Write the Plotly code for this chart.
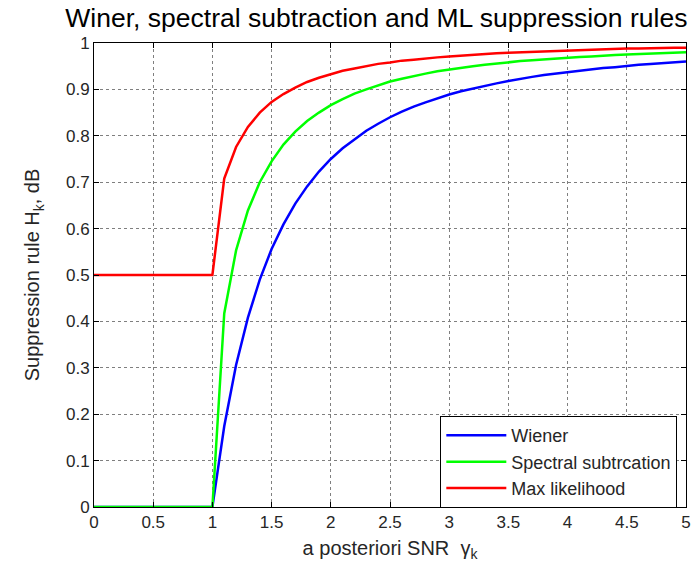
import plotly.graph_objects as go

snr = [0.0, 0.1, 0.2, 0.3, 0.4, 0.5, 0.6, 0.7, 0.8, 0.9,
       1.0, 1.1, 1.2, 1.3, 1.4, 1.5, 1.6, 1.7, 1.8, 1.9,
       2.0, 2.1, 2.2, 2.3, 2.4, 2.5, 2.6, 2.7, 2.8, 2.9,
       3.0, 3.1, 3.2, 3.3, 3.4, 3.5, 3.6, 3.7, 3.8, 3.9,
       4.0, 4.1, 4.2, 4.3, 4.4, 4.5, 4.6, 4.7, 4.8, 4.9, 5.0]

wiener = [0, 0, 0, 0, 0, 0, 0, 0, 0, 0,
          0, 0.174, 0.306, 0.408, 0.490, 0.556, 0.609, 0.654, 0.691, 0.723,
          0.750, 0.773, 0.793, 0.811, 0.826, 0.840, 0.852, 0.863, 0.872, 0.881,
          0.889, 0.896, 0.902, 0.908, 0.913, 0.918, 0.923, 0.927, 0.931, 0.934,
          0.938, 0.941, 0.943, 0.946, 0.948, 0.951, 0.953, 0.955, 0.957, 0.958, 0.960]

spectral = [0, 0, 0, 0, 0, 0, 0, 0, 0, 0,
            0, 0.417, 0.553, 0.639, 0.700, 0.745, 0.781, 0.809, 0.832, 0.850,
            0.866, 0.879, 0.891, 0.900, 0.909, 0.917, 0.923, 0.929, 0.934, 0.939,
            0.943, 0.947, 0.950, 0.953, 0.956, 0.958, 0.961, 0.963, 0.965, 0.966,
            0.968, 0.970, 0.971, 0.973, 0.974, 0.975, 0.976, 0.977, 0.978, 0.979, 0.980]

maxlik = [0.5, 0.5, 0.5, 0.5, 0.5, 0.5, 0.5, 0.5, 0.5, 0.5,
          0.5, 0.708, 0.776, 0.819, 0.850, 0.873, 0.890, 0.904, 0.916, 0.925,
          0.933, 0.940, 0.945, 0.950, 0.955, 0.958, 0.962, 0.964, 0.967, 0.969,
          0.971, 0.973, 0.975, 0.976, 0.978, 0.979, 0.980, 0.981, 0.982, 0.983,
          0.984, 0.985, 0.986, 0.986, 0.987, 0.988, 0.988, 0.989, 0.989, 0.990, 0.990]

x_ticks = [0, 0.5, 1, 1.5, 2, 2.5, 3, 3.5, 4, 4.5, 5]
x_tick_labels = ["0", "0.5", "1", "1.5", "2", "2.5", "3", "3.5", "4", "4.5", "5"]
y_ticks = [0, 0.1, 0.2, 0.3, 0.4, 0.5, 0.6, 0.7, 0.8, 0.9, 1]
y_tick_labels = ["0", "0.1", "0.2", "0.3", "0.4", "0.5", "0.6", "0.7", "0.8", "0.9", "1"]

font = "Liberation Sans, Arial, sans-serif"
txt = "#262626"

fig = go.Figure()
fig.add_trace(go.Scatter(x=snr, y=wiener, mode="lines", name="Wiener",
                         line=dict(color="#0000ff", width=2.5)))
fig.add_trace(go.Scatter(x=snr, y=spectral, mode="lines", name="Spectral subtrcation",
                         line=dict(color="#00ff00", width=2.5)))
fig.add_trace(go.Scatter(x=snr, y=maxlik, mode="lines", name="Max likelihood",
                         line=dict(color="#ff0000", width=2.5)))

axis_common = dict(showline=True, linecolor="black", linewidth=1, mirror="ticks",
                   ticks="inside", ticklen=5, tickcolor="black", automargin=False,
                   showgrid=True, gridcolor="#7f7f7f", griddash="dot", gridwidth=1,
                   zeroline=False, tickfont=dict(family=font, size=17, color=txt))

fig.update_layout(
    width=697, height=566,
    paper_bgcolor="white", plot_bgcolor="white",
    margin=dict(l=94, r=11, t=43, b=59, autoexpand=False),
    title=dict(text="Winer, spectral subtraction and ML suppression rules",
               x=0.54, xanchor="center", y=0.968, yanchor="middle",
               font=dict(family=font, size=26.5, color="black")),
    xaxis=dict(range=[0, 5], tickvals=x_ticks, ticktext=x_tick_labels,
               title=dict(text="a posteriori SNR  γ<sub>k</sub>", standoff=9,
                          font=dict(family=font, size=20, color=txt)),
               **axis_common),
    yaxis=dict(range=[0, 1], tickvals=y_ticks, ticktext=y_tick_labels,
               title=dict(text="Suppression rule H<sub>k</sub>, dB", standoff=20,
                          font=dict(family=font, size=20, color=txt)),
               **axis_common),
    legend=dict(x=0.585, y=0.196, xanchor="left", yanchor="top",
                bgcolor="white", bordercolor="black", borderwidth=1,
                font=dict(family=font, size=18, color=txt),
                itemwidth=60, tracegroupgap=0),
    showlegend=True,
)

fig.write_html("out.html", config={"displayModeBar": False},
               post_script="document.body.style.margin='0';document.body.style.overflow='hidden';")
